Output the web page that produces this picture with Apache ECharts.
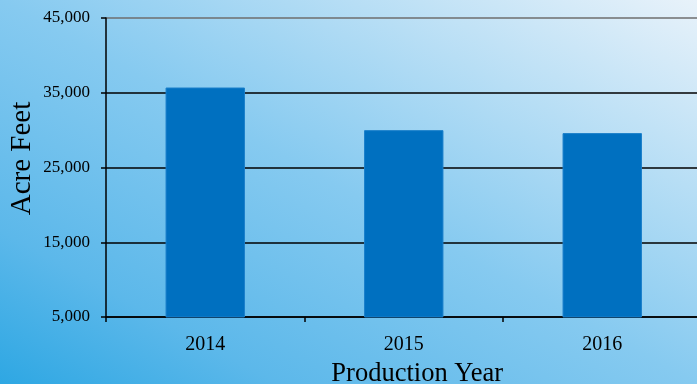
<!DOCTYPE html>
<html>
<head>
<meta charset="utf-8">
<script src="https://cdn.jsdelivr.net/npm/echarts@6/dist/echarts.min.js"></script>
<style>
  html, body { margin: 0; padding: 0; }
  #chart { width: 697px; height: 384px; }
</style>
</head>
<body>
<div id="chart"></div>
<script>
// production years and volumes (acre feet)
const years = ["2014", "2015", "2016"];
const acreFeet = [35700, 30000, 29600];
const yTicks = [5000, 15000, 25000, 35000, 45000];

const chart = echarts.init(document.getElementById("chart"));

const serif = "Liberation Serif, Times New Roman, serif";

const option = {
  // diagonal sky gradient, dark at bottom-left, pale at top-right
  backgroundColor: new echarts.graphic.LinearGradient(0, 384, 324.6, -205.1, [
    { offset: 0, color: "#2ea7e3" },
    { offset: 0.2, color: "#5cb8ea" },
    { offset: 0.5, color: "#86caf0" },
    { offset: 1, color: "#e8f2fa" },
  ], true),
  grid: {
    left: 106,
    right: -4.5,
    top: 18,
    bottom: 67,
    outerBoundsMode: "none",
  },
  xAxis: {
    type: "category",
    data: years,
    name: "Production Year",
    nameLocation: "middle",
    nameGap: 44,
    nameTextStyle: {
      fontFamily: serif,
      fontSize: 26.5,
      color: "#000",
      padding: [0, 0, 0, 27],
    },
    axisLine: { lineStyle: { color: "#000", width: 1.5 } },
    axisTick: { show: true, length: 5, lineStyle: { color: "#000", width: 1.5 } },
    axisLabel: {
      fontFamily: serif,
      fontSize: 20,
      color: "#000",
      margin: 18,
    },
  },
  yAxis: {
    type: "value",
    min: yTicks[0],
    max: yTicks[yTicks.length - 1],
    interval: 10000,
    name: "Acre Feet",
    nameLocation: "middle",
    nameGap: 69,
    nameMoveOverlap: false,
    nameTextStyle: {
      fontFamily: serif,
      fontSize: 29,
      color: "#000",
      padding: [0, 0, 0, 18],
    },
    axisLine: { show: true, lineStyle: { color: "#000", width: 1.5 } },
    axisTick: { show: true, length: 5, lineStyle: { color: "#000", width: 1.5 } },
    splitLine: {
      show: true,
      lineStyle: {
        color: ["#000", "#000", "#000", "#000", "#6e6e6e"],
        width: 1.5,
      },
    },
    axisLabel: {
      fontFamily: serif,
      fontSize: 17,
      color: "#000",
      margin: 16,
      formatter: (v) => v.toLocaleString("en-US"),
    },
  },
  series: [
    {
      type: "bar",
      data: acreFeet,
      barWidth: "40%",
      itemStyle: { color: "#0070c0", borderColor: "#1a7fca", borderWidth: 1 },
      animation: false,
    },
  ],
};

chart.setOption(option);
window.addEventListener("resize", () => chart.resize());
</script>
</body>
</html>
